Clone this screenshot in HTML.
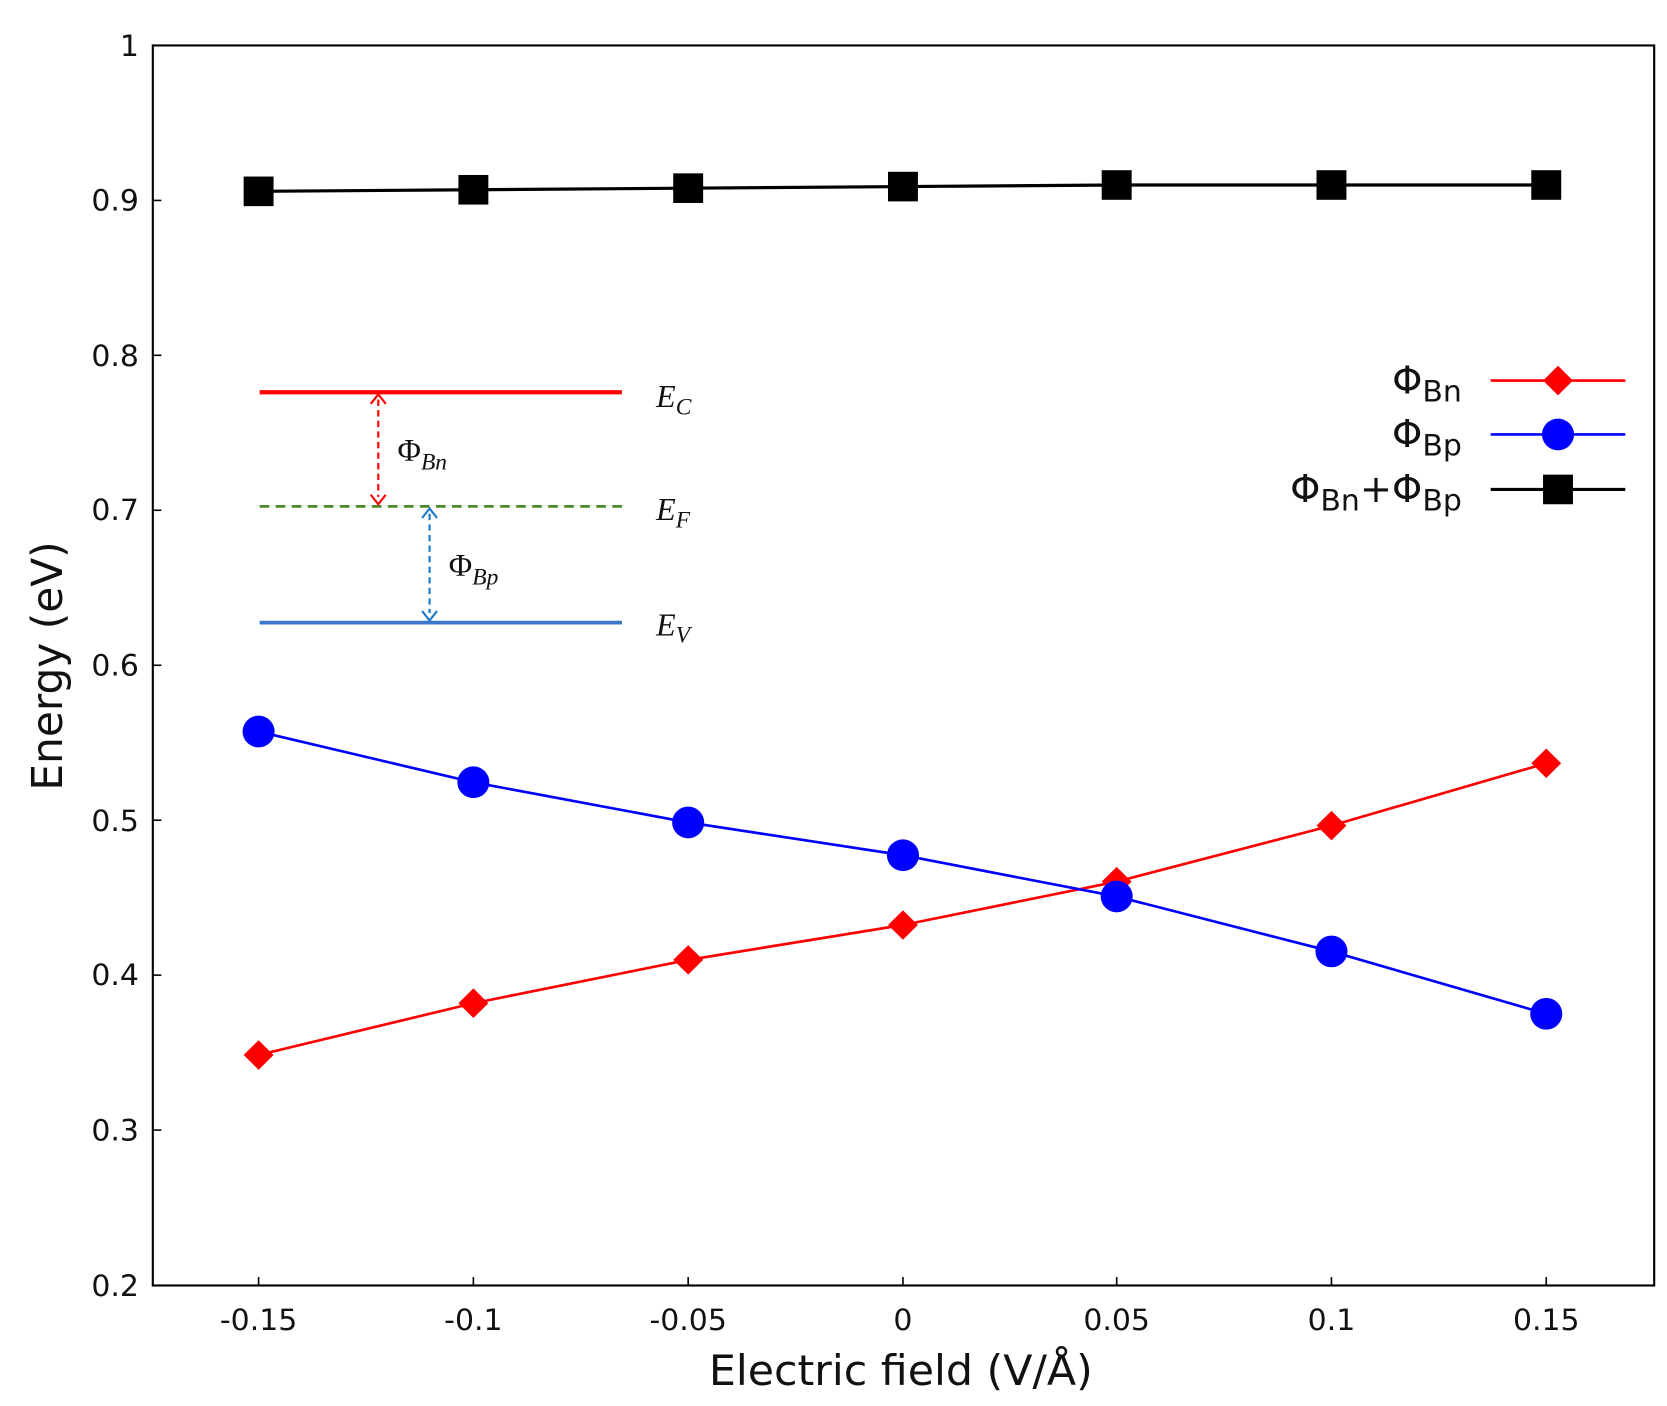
<!DOCTYPE html>
<html><head><meta charset="utf-8"><style>html,body{margin:0;padding:0;background:#fff}svg{display:block}</style></head>
<body>
<svg width="1667" height="1406" viewBox="0 0 1560 1330" preserveAspectRatio="none" xmlns="http://www.w3.org/2000/svg" font-family="'DejaVu Sans','Liberation Sans',sans-serif">
<rect x="143" y="43" width="1405" height="1173" fill="none" stroke="#000" stroke-width="2"/>
<g stroke="#000" stroke-width="1.5">
<line x1="242" y1="1216" x2="242" y2="1208"/><line x1="443" y1="1216" x2="443" y2="1208"/><line x1="644" y1="1216" x2="644" y2="1208"/><line x1="845" y1="1216" x2="845" y2="1208"/><line x1="1045" y1="1216" x2="1045" y2="1208"/><line x1="1246" y1="1216" x2="1246" y2="1208"/><line x1="1447" y1="1216" x2="1447" y2="1208"/>
<line x1="143" y1="189.6" x2="151" y2="189.6"/><line x1="143" y1="336.1" x2="151" y2="336.1"/><line x1="143" y1="482.7" x2="151" y2="482.7"/><line x1="143" y1="629.3" x2="151" y2="629.3"/><line x1="143" y1="775.9" x2="151" y2="775.9"/><line x1="143" y1="922.4" x2="151" y2="922.4"/><line x1="143" y1="1069" x2="151" y2="1069"/>
</g>
<g font-size="28" fill="#111" text-anchor="end">
<text x="130" y="53">1</text><text x="130" y="199">0.9</text><text x="130" y="346">0.8</text><text x="130" y="492">0.7</text><text x="130" y="639">0.6</text><text x="130" y="786">0.5</text><text x="130" y="932">0.4</text><text x="130" y="1079">0.3</text><text x="130" y="1226">0.2</text>
</g>
<g font-size="28" fill="#111" text-anchor="middle">
<text x="242" y="1258">-0.15</text><text x="443" y="1258">-0.1</text><text x="644" y="1258">-0.05</text><text x="845" y="1258">0</text><text x="1045" y="1258">0.05</text><text x="1246" y="1258">0.1</text><text x="1447" y="1258">0.15</text>
</g>
<text x="843" y="1310" font-size="40" text-anchor="middle" fill="#111">Electric field (V/Å)</text>
<text transform="translate(58,630) rotate(-90)" font-size="40" text-anchor="middle" fill="#111">Energy (eV)</text>
<!-- black -->
<polyline fill="none" stroke="#000" stroke-width="3" points="242,181 443,179.5 644,178 845,176.5 1045,175 1246,175 1447,175"/>
<g fill="#000">
<rect x="228" y="167" width="28" height="28"/><rect x="429" y="165.5" width="28" height="28"/><rect x="630" y="164" width="28" height="28"/><rect x="831" y="162.5" width="28" height="28"/><rect x="1031" y="161" width="28" height="28"/><rect x="1232" y="161" width="28" height="28"/><rect x="1433" y="161" width="28" height="28"/>
</g>
<!-- red -->
<polyline fill="none" stroke="#f00" stroke-width="2.5" points="242,998 443,949 644,908 845,875 1045,834 1246,781 1447,722"/>
<g fill="#f00">
<polygon points="242,984 256,998 242,1012 228,998"/><polygon points="443,935 457,949 443,963 429,949"/><polygon points="644,894 658,908 644,922 630,908"/><polygon points="845,861 859,875 845,889 831,875"/><polygon points="1045,820 1059,834 1045,848 1031,834"/><polygon points="1246,767 1260,781 1246,795 1232,781"/><polygon points="1447,708 1461,722 1447,736 1433,722"/>
</g>
<!-- blue -->
<polyline fill="none" stroke="#00f" stroke-width="2.5" points="242,692 443,740 644,778 845,809 1045,848 1246,900 1447,959"/>
<g fill="#00f">
<circle cx="242" cy="692" r="15"/><circle cx="443" cy="740" r="15"/><circle cx="644" cy="778" r="15"/><circle cx="845" cy="809" r="15"/><circle cx="1045" cy="848" r="15"/><circle cx="1246" cy="900" r="15"/><circle cx="1447" cy="959" r="15"/>
</g>
<!-- inset -->
<line x1="243" y1="371" x2="582" y2="371" stroke="#f00" stroke-width="4"/>
<line x1="243" y1="479" x2="582" y2="479" stroke="#4a8a2a" stroke-width="2.5" stroke-dasharray="9,6"/>
<line x1="243" y1="589" x2="582" y2="589" stroke="#3a78c8" stroke-width="3.5"/>
<line x1="354" y1="378" x2="354" y2="470" stroke="#f00" stroke-width="2" stroke-dasharray="6,4"/>
<path d="M347,382 L354,373 L361,382 M347,468 L354,477 L361,468" fill="none" stroke="#f00" stroke-width="2"/>
<line x1="402" y1="486" x2="402" y2="580" stroke="#1a78c8" stroke-width="2" stroke-dasharray="6,4"/>
<path d="M395,490 L402,481 L409,490 M395,578 L402,587 L409,578" fill="none" stroke="#1a78c8" stroke-width="2"/>
<g font-family="'Liberation Serif',serif" font-style="italic" fill="#111">
<text x="614" y="385" font-size="30">E<tspan font-size="22" dy="7">C</tspan></text>
<text x="614" y="492" font-size="30">E<tspan font-size="22" dy="7">F</tspan></text>
<text x="614" y="601" font-size="30">E<tspan font-size="22" dy="7">V</tspan></text>
<text x="372" y="436" font-size="30"><tspan font-style="normal">Φ</tspan><tspan font-size="22" dy="8">Bn</tspan></text>
<text x="420" y="545" font-size="30"><tspan font-style="normal">Φ</tspan><tspan font-size="22" dy="8">Bp</tspan></text>
</g>
<!-- legend -->
<g font-size="36" fill="#111" text-anchor="end">
<text x="1368" y="372">Φ<tspan font-size="28" dy="8">Bn</tspan></text>
<text x="1368" y="423">Φ<tspan font-size="28" dy="8">Bp</tspan></text>
<text x="1368" y="475">Φ<tspan font-size="28" dy="8">Bn</tspan><tspan dy="-8">+Φ</tspan><tspan font-size="28" dy="8">Bp</tspan></text>
</g>
<line x1="1395" y1="360" x2="1521" y2="360" stroke="#f00" stroke-width="2.5"/>
<polygon points="1458,346 1472,360 1458,374 1444,360" fill="#f00"/>
<line x1="1395" y1="411" x2="1521" y2="411" stroke="#00f" stroke-width="2.5"/>
<circle cx="1458" cy="411" r="15" fill="#00f"/>
<line x1="1395" y1="463" x2="1521" y2="463" stroke="#000" stroke-width="3"/>
<rect x="1444" y="449" width="28" height="28" fill="#000"/>
</svg>
</body></html>
